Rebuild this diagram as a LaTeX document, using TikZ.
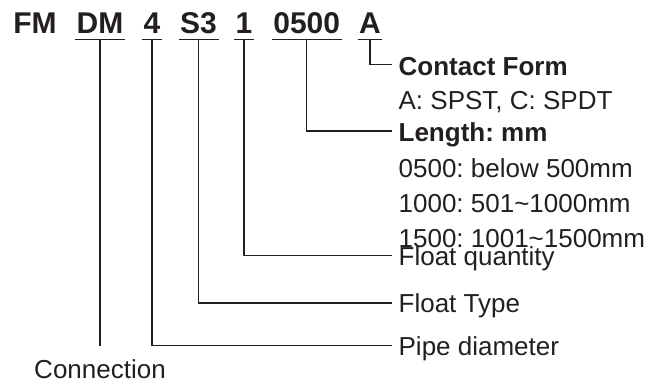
\documentclass[tikz,border=0pt]{standalone}
\usepackage{fontspec}
\setmainfont{Liberation Sans}
\definecolor{ink}{RGB}{35,31,32}
\frenchspacing
\begin{document}
\begin{tikzpicture}[
  x=1pt, y=-1pt,
  color=ink,
  line width=1.3pt,
  every node/.style={inner sep=0pt},
  code/.style={font=\fontsize{30}{30}\selectfont\bfseries, anchor=base, inner xsep=1pt},
  lbl/.style={font=\fontsize{26}{26}\selectfont, anchor=base west},
  head/.style={lbl, font=\fontsize{26}{26}\selectfont\bfseries}
]
  \useasboundingbox (0,0) rectangle (666,384);

  % model code
  \node (c-fm)   [code] at (35,33.3)    {FM};
  \node (c-dm)   [code] at (100,33.3)   {DM};
  \node (c-4)    [code] at (152,33.3)   {4};
  \node (c-s3)   [code] at (198.5,33.3) {S3};
  \node (c-1)    [code] at (244,33.3)   {1};
  \node (c-0500) [code] at (306.7,33.3) {0500};
  \node (c-a)    [code] at (370,33.3)   {A};

  \foreach \c in {c-dm,c-4,c-s3,c-1,c-0500,c-a}
    \draw ([yshift=-6pt]\c.base west) -- ([yshift=-6pt]\c.base east);

  % descriptions
  \node (l-contact) [head] at (398,75)    {Contact Form};
  \node (l-form)    [lbl]  at (398,109)   {A: SPST, C: SPDT};
  \node (l-length)  [head] at (398,141.7) {Length: mm};
  \node (l-len1)    [lbl]  at (398,177)   {0500: below 500mm};
  \node (l-len2)    [lbl]  at (398,212)   {1000: 501\char`~1000mm};
  \node (l-len3)    [lbl]  at (398,247)   {1500: 1001\char`~1500mm};
  \node (l-qty)     [lbl]  at (398,265)   {Float quantity};
  \node (l-type)    [lbl]  at (398,312.5) {Float Type};
  \node (l-pipe)    [lbl]  at (398,355.2) {Pipe diameter};
  \node (l-conn)    [lbl, anchor=base] at (c-dm.base |- 0,378) {Connection};

  % leaders
  \draw ([yshift=-6pt]c-a.base)    |- ([xshift=-6pt,yshift=10.5pt]l-contact.base west);
  \draw ([yshift=-6pt]c-0500.base) |- ([xshift=-6pt,yshift=10.7pt]l-length.base west);
  \draw ([yshift=-6pt]c-1.base)    |- ([xshift=-6pt,yshift=9.5pt]l-qty.base west);
  \draw ([yshift=-6pt]c-s3.base)   |- ([xshift=-6pt,yshift=9.5pt]l-type.base west);
  \draw ([yshift=-6pt]c-4.base)    |- ([xshift=-6pt,yshift=9.5pt]l-pipe.base west);
  \draw ([yshift=-6pt]c-dm.base)   -- ([yshift=13pt]l-conn.north);
\end{tikzpicture}
\end{document}
